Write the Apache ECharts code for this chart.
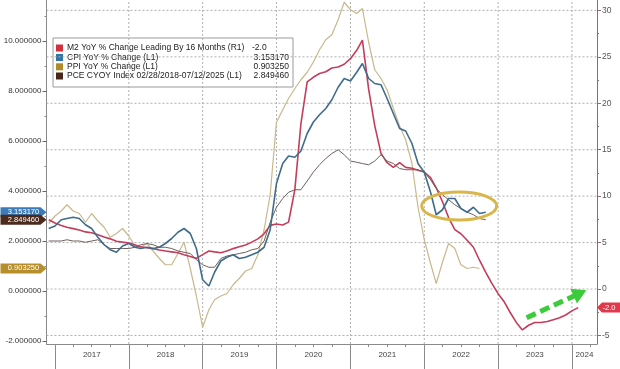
<!DOCTYPE html>
<html><head><meta charset="utf-8">
<script src="https://cdn.jsdelivr.net/npm/echarts@6/dist/echarts.min.js"></script>
<style>html,body{margin:0;padding:0;background:#fff}#c{width:620px;height:369px}</style>
</head><body><div id="c"></div>
<script>
// monthly series, first value = Dec 2016 on the chart's time axis
const startYear = 2016, startMonthIndex = 11;
const m2 = [7.45,7.1,6.85,6.65,6.5,6.35,6.15,6.05,5.85,5.6,5.4,5.15,5.05,4.95,4.75,4.55,4.45,4.35,4.2,4.1,4.0,3.9,3.7,3.5,3.3,3.7,4.1,4.0,3.9,4.1,4.35,4.55,4.75,5.05,5.4,5.95,6.85,7.0,6.9,7.2,10.7,17.8,22.3,22.8,23.2,23.4,23.8,23.9,24.2,24.8,25.7,26.8,21.5,17.6,14.6,13.6,13.1,13.6,13.1,13.0,12.8,12.6,12.0,10.9,9.4,7.7,6.4,5.95,5.25,4.5,3.1,1.8,0.6,-0.5,-1.4,-2.5,-3.6,-4.4,-3.9,-3.6,-3.6,-3.5,-3.3,-3.1,-2.8,-2.35,-2.0];
const cpi = [2.5,2.6,2.85,2.9,2.95,2.9,2.65,2.5,2.15,1.85,1.65,1.55,1.8,1.9,1.75,1.7,1.75,1.7,1.75,1.9,2.1,2.35,2.5,2.3,1.7,0.45,0.2,0.75,1.2,1.35,1.45,1.3,1.35,1.45,1.55,1.75,2.45,4.3,5.1,5.4,5.35,5.6,6.3,6.75,7.05,7.3,7.65,8.15,8.5,8.4,8.75,9.1,8.5,8.3,8.25,7.7,7.1,6.5,6.4,5.9,5.1,4.75,3.95,3.05,3.25,3.7,3.7,3.3,3.15,3.35,3.1,3.15];
const ppi = [2.7,3.0,3.2,3.45,3.2,3.1,2.75,3.1,2.8,2.55,2.15,2.3,2.5,2.2,1.8,1.75,1.9,1.6,1.3,1.05,1.05,1.5,1.95,0.9,-0.2,-1.45,-0.75,-0.35,-0.2,-0.1,0.25,0.5,0.8,0.9,1.45,2.45,3.85,6.75,7.25,7.7,8.1,8.45,8.75,9.15,9.65,10.05,10.25,10.85,11.55,11.25,11.1,11.3,9.95,8.85,8.5,8.05,7.3,6.6,6.05,5.1,3.35,2.05,1.1,0.3,1.15,1.9,1.7,1.05,0.9,0.95,0.9];
const pce = [2.0,2.0,2.0,2.05,2.0,2.0,1.95,2.0,2.05,1.85,1.7,1.7,1.7,1.7,1.75,1.85,1.9,1.85,1.75,1.75,1.7,1.6,1.55,1.5,1.25,1.05,0.95,0.95,1.3,1.4,1.45,1.5,1.55,1.65,1.7,2.0,2.75,3.35,3.7,3.95,4.05,4.05,4.4,4.75,5.05,5.3,5.5,5.65,5.45,5.2,5.15,5.1,5.05,5.2,5.45,5.2,5.1,4.9,4.85,4.85,4.85,4.75,4.45,4.1,3.85,3.65,3.45,3.3,3.15,3.05,2.9,2.85];

const seriesNames = ['M2 YoY % Change Leading By 16 Months (R1)','CPI YoY % Change (L1)','PPI YoY % Change (L1)','PCE CYOY Index 02/28/2018-07/12/2025 (L1)'];
const lastValueText = ['-2.0','3.153170','0.903250','2.849460'];
const years = [2017,2018,2019,2020,2021,2022,2023,2024];
const leftTicks = [-2,0,2,4,6,8,10];
const leftMinor = [-1,1,3,5,7,9,11];
const rightTicks = [-5,0,5,10,15,20,25,30];
const rightMinor = [-2.5,2.5,7.5,12.5,17.5,22.5,27.5];
const axisStart = [2016,10,20], axisEnd = [2024,4,4];
const leftRange = [-2.12, 11.64], rightRange = [-5.92, 31.12];
const ellipseDates = [[2021,11,19],[2022,11,25]], ellipseValues = [2.84,3.96];
const arrowFrom = [[2023,4,22], -3.1], arrowTo = [[2024,1,10], -0.45];

const colors = {m2:'#c43d5a', cpi:'#3f6b8c', ppi:'#c8b88c', pce:'#6f5f5b'};
const swatch = ['#d3303f','#2f76a8','#b08b2c','#4a2818'];
const boxColors = ['#e2384c','#3b7bb7','#b68f2b','#4c2a1c'];

const t = a => new Date(a[0], a[1], a[2]).getTime();
const monthT = i => new Date(startYear, startMonthIndex + i, 1).getTime();
const pairs = arr => arr.map((v,i)=>[monthT(i), v]);
const xMin = t(axisStart), xMax = t(axisEnd);
const yearTicks = years.map(y => new Date(y,0,1).getTime());
const labelPos = years.map(y => y < 2024 ? new Date(y,6,2).getTime() : (new Date(2024,0,1).getTime()+xMax)/2);
const quarterTicks = [];
years.forEach(y => [3,6,9].forEach(m => { const v = new Date(y,m,1).getTime(); if (v < xMax) quarterTicks.push(v); }));

const font = 'Liberation Sans, Arial, sans-serif';
const grid = {left:46.5, right:23, top:0, bottom:25};

function boxPoint(xv, yv, txt, color, side){
  const ww = side === 'left' ? 46 : 24, h = 10;
  const path = side === 'left' ? 'path://M0,0L40,0L46,5L40,10L0,10Z' : 'path://M0,5L5,0L24,0L24,10L5,10Z';
  return {
    coord:[xv, yv], value: txt, symbol: path, symbolKeepAspect:false,
    symbolSize:[ww,h], symbolOffset:[side==='left' ? -ww/2 : ww/2, 0],
    itemStyle:{color}, label:{show:true, position:'inside', formatter: txt, color:'#fff', fontSize:7.5, fontFamily:font}
  };
}
function lineSeries(name, data, yAxisIndex, color, width, z, idx){
  return {
    type:'line', name, data: pairs(data), yAxisIndex, xAxisIndex:0, showSymbol:false, symbol:'none',
    lineStyle:{color, width}, itemStyle:{color}, z, silent:true, animation:false,
    markPoint:{ silent:true, animation:false, data:[ boxPoint(idx===0 ? xMax : xMin, parseFloat(lastValueText[idx]), lastValueText[idx], boxColors[idx], idx===0 ? 'right' : 'left') ] }
  };
}
// dotted grid drawn as plain two-point line series on the right-axis scale
function gridLine(p0, p1){
  return {type:'line', data:[p0, p1], xAxisIndex:0, yAxisIndex:1, showSymbol:false, symbol:'none', silent:true,
    animation:false, z:1, lineStyle:{color:'#b0b0b0', width:1, type:[2,2]}};
}
const gridSeries = rightTicks.map(v => gridLine([xMin, v], [xMax, v]))
  .concat(yearTicks.slice(1).map(v => gridLine([v, rightRange[0]], [v, rightRange[1]])));

const chart = echarts.init(document.getElementById('c'), null, {renderer:'canvas'});
const s0 = lineSeries(seriesNames[0], m2, 1, colors.m2, 1.6, 3, 0);
s0.markLine = {
  silent:true, animation:false, symbol:['none','triangle'], symbolSize:[16,14], label:{show:false},
  lineStyle:{color:'#3ccb3a', width:5, type:[10,5]},
  data:[[{coord:[t(arrowFrom[0]), arrowFrom[1]]},{coord:[t(arrowTo[0]), arrowTo[1]]}]]
};
chart.setOption({
  animation:false,
  grid,
  xAxis:[
    {type:'value', min:xMin, max:xMax, scale:true,
     axisLine:{show:true, onZero:false, lineStyle:{color:'#8a8a8a'}},
     axisTick:{show:true, customValues:yearTicks, length:25, lineStyle:{color:'#8a8a8a'}},
     axisLabel:{customValues:labelPos, formatter: v => String(new Date(v).getFullYear()), fontSize:8, color:'#444', margin:7, fontFamily:font},
     splitLine:{show:false}},
    {type:'value', min:xMin, max:xMax, scale:true, position:'bottom',
     axisLine:{show:false, onZero:false}, axisTick:{show:true, customValues:quarterTicks, length:3, lineStyle:{color:'#8a8a8a'}},
     axisLabel:{show:false}, splitLine:{show:false}}
  ],
  yAxis:[
    {type:'value', position:'left', min:leftRange[0], max:leftRange[1],
     axisLine:{show:true, onZero:false, lineStyle:{color:'#8a8a8a'}},
     axisTick:{show:true, customValues:leftTicks, length:4, lineStyle:{color:'#666'}},
     axisLabel:{customValues:leftTicks, formatter: v => Number(v).toFixed(6), fontSize:8, color:'#333', margin:5, fontFamily:font},
     splitLine:{show:false}},
    {type:'value', position:'right', min:rightRange[0], max:rightRange[1],
     axisLine:{show:true, onZero:false, lineStyle:{color:'#8d6a77'}},
     axisTick:{show:true, customValues:rightTicks, length:4, lineStyle:{color:'#8d6a77'}},
     axisLabel:{customValues:rightTicks, fontSize:8.5, color:'#555', margin:5, fontFamily:font},
     splitLine:{show:false}},
    {type:'value', position:'left', min:leftRange[0], max:leftRange[1], axisLine:{show:false, onZero:false},
     axisTick:{show:true, customValues:leftMinor, length:2, lineStyle:{color:'#888'}}, axisLabel:{show:false}, splitLine:{show:false}},
    {type:'value', position:'right', min:rightRange[0], max:rightRange[1], axisLine:{show:false, onZero:false},
     axisTick:{show:true, customValues:rightMinor, length:2, lineStyle:{color:'#8d6a77'}}, axisLabel:{show:false}, splitLine:{show:false}}
  ],
  series: gridSeries.concat([
    s0,
    lineSeries(seriesNames[1], cpi, 0, colors.cpi, 1.6, 5, 1),
    lineSeries(seriesNames[2], ppi, 0, colors.ppi, 1.2, 2, 2),
    lineSeries(seriesNames[3], pce, 0, colors.pce, 1, 4, 3)
  ])
});

// legend box and annotation ellipse
const lg = {x:53, y:38, w:240, h:49};
const rowY = [10, 19.5, 28.8, 38];
const legendChildren = [{type:'rect', shape:{x:0,y:0,width:lg.w,height:lg.h}, style:{fill:'#fff', stroke:'#9a9a9a', lineWidth:1}}];
seriesNames.forEach((n,i)=>{
  legendChildren.push({type:'rect', shape:{x:3, y:rowY[i]-3.5, width:7, height:7}, style:{fill:swatch[i]}});
  legendChildren.push({type:'text', x:14, y:rowY[i], style:{text:n, fill:'#222', fontSize:8.5, fontFamily:font, verticalAlign:'middle'}});
  legendChildren.push({type:'text', x: i===0 ? 199 : 236, y:rowY[i], style:{text:lastValueText[i], fill:'#222', fontSize:8.5, fontFamily:font, align: i===0 ? 'left' : 'right', verticalAlign:'middle'}});
});
const pA = chart.convertToPixel({xAxisIndex:0, yAxisIndex:0}, [t(ellipseDates[0]), ellipseValues[1]]);
const pB = chart.convertToPixel({xAxisIndex:0, yAxisIndex:0}, [t(ellipseDates[1]), ellipseValues[0]]);
chart.setOption({graphic: [
  {type:'group', id:'legend', x:lg.x, y:lg.y, z:100, children:legendChildren},
  {type:'ellipse', id:'ring', z:90, shape:{cx:(pA[0]+pB[0])/2, cy:(pA[1]+pB[1])/2, rx:(pB[0]-pA[0])/2, ry:(pB[1]-pA[1])/2}, style:{fill:'none', stroke:'#d8b64a', lineWidth:3}}
]});
</script></body></html>
